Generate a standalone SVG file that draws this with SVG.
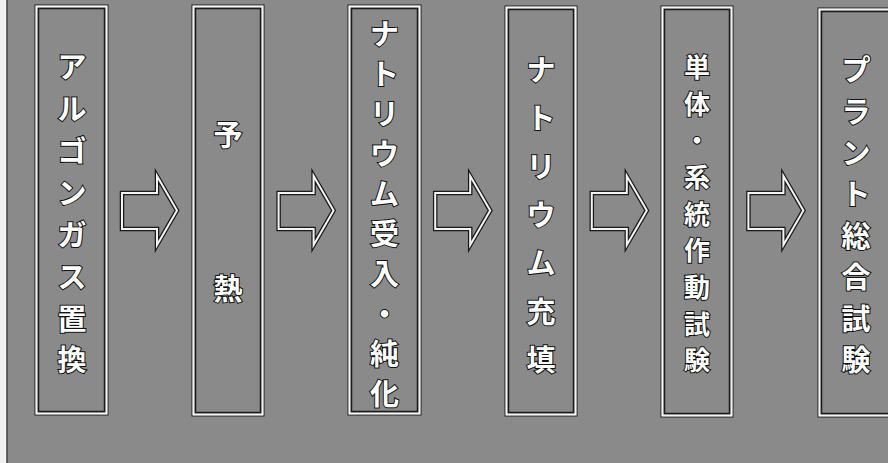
<svg xmlns="http://www.w3.org/2000/svg" width="888" height="463" viewBox="0 0 888 463">
<style>
.bo{fill:none;stroke:#1a1a1a;stroke-width:1}
.bw{fill:none;stroke:#f4f4f4;stroke-width:2}
.bi{fill:none;stroke:#1a1a1a;stroke-width:1.5}
.t{font-family:"Noto Sans CJK JP","Noto Sans CJK SC",sans-serif;font-size:29px;font-weight:bold;fill:#ffffff;stroke:#111111;stroke-width:2px;paint-order:stroke;text-anchor:middle;dominant-baseline:central}
.t5{font-size:26px}
.ao{fill:none;stroke:#1a1a1a;stroke-width:4.5;stroke-linejoin:miter}
.aw{fill:none;stroke:#f4f4f4;stroke-width:2;stroke-linejoin:miter}
</style>
<defs>
<path id="arr" d="M0,17 L35,17 L35,0 L55,34.5 L35,69 L35,53 L0,53 Z"/>
</defs>
<rect x="0" y="0" width="888" height="463" fill="#8a8a8a"/>
<rect x="0" y="0" width="6.5" height="463" fill="#f0f0f0"/>
<line x1="7" y1="0" x2="7" y2="463" stroke="#1a1a1a" stroke-width="1"/>

<g id="node1">
<rect class="bo" x="35" y="5" width="73" height="410"/>
<rect class="bw" x="36.5" y="6.5" width="70" height="407"/>
<rect class="bi" x="38.5" y="8.5" width="66" height="403"/>
<text class="t"><tspan x="72" y="65">ア</tspan><tspan x="72" y="107">ル</tspan><tspan x="72" y="149">ゴ</tspan><tspan x="72" y="191">ン</tspan><tspan x="72" y="233">ガ</tspan><tspan x="72" y="275">ス</tspan><tspan x="72" y="317">置</tspan><tspan x="72" y="358">換</tspan></text>
</g>

<g id="node2">
<rect class="bo" x="192" y="5" width="72" height="411"/>
<rect class="bw" x="193.5" y="6.5" width="69" height="408"/>
<rect class="bi" x="195.5" y="8.5" width="65" height="404"/>
<text class="t"><tspan x="228" y="133">予</tspan><tspan x="228" y="287">熱</tspan></text>
</g>

<g id="node3">
<rect class="bo" x="348" y="5" width="73" height="410"/>
<rect class="bw" x="349.5" y="6.5" width="70" height="407"/>
<rect class="bi" x="351.5" y="8.5" width="66" height="403"/>
<text class="t"><tspan x="384.5" y="32">ナ</tspan><tspan x="384.5" y="72">ト</tspan><tspan x="384.5" y="112">リ</tspan><tspan x="384.5" y="152">ウ</tspan><tspan x="384.5" y="192">ム</tspan><tspan x="384.5" y="232">受</tspan><tspan x="384.5" y="272">入</tspan><tspan x="384.5" y="312">・</tspan><tspan x="384.5" y="352">純</tspan><tspan x="384.5" y="392">化</tspan></text>
</g>

<g id="node4">
<rect class="bo" x="505" y="6" width="72" height="410"/>
<rect class="bw" x="506.5" y="7.5" width="69" height="407"/>
<rect class="bi" x="508.5" y="9.5" width="65" height="403"/>
<text class="t"><tspan x="541" y="68">ナ</tspan><tspan x="541" y="116">ト</tspan><tspan x="541" y="165">リ</tspan><tspan x="541" y="213">ウ</tspan><tspan x="541" y="261">ム</tspan><tspan x="541" y="310">充</tspan><tspan x="541" y="358">填</tspan></text>
</g>

<g id="node5">
<rect class="bo" x="661" y="6" width="72" height="411"/>
<rect class="bw" x="662.5" y="7.5" width="69" height="408"/>
<rect class="bi" x="664.5" y="9.5" width="65" height="404"/>
<text class="t t5"><tspan x="697" y="65">単</tspan><tspan x="697" y="102">体</tspan><tspan x="697" y="138">・</tspan><tspan x="697" y="175">系</tspan><tspan x="697" y="212">統</tspan><tspan x="697" y="248">作</tspan><tspan x="697" y="285">動</tspan><tspan x="697" y="322">試</tspan><tspan x="697" y="358">験</tspan></text>
</g>

<g id="node6">
<rect class="bo" x="818" y="8" width="80" height="409"/>
<rect class="bw" x="819.5" y="9.5" width="77" height="406"/>
<rect class="bi" x="821.5" y="11.5" width="73" height="402"/>
<text class="t"><tspan x="856" y="68">プ</tspan><tspan x="856" y="110">ラ</tspan><tspan x="856" y="151">ン</tspan><tspan x="856" y="192">ト</tspan><tspan x="856" y="234">総</tspan><tspan x="856" y="275">合</tspan><tspan x="856" y="317">試</tspan><tspan x="856" y="358">験</tspan></text>
</g>

<g id="connectors">
<g transform="translate(122,176)"><use href="#arr" class="ao"/><use href="#arr" class="aw"/></g>
<g transform="translate(278.6,176)"><use href="#arr" class="ao"/><use href="#arr" class="aw"/></g>
<g transform="translate(435.2,176)"><use href="#arr" class="ao"/><use href="#arr" class="aw"/></g>
<g transform="translate(591.8,176)"><use href="#arr" class="ao"/><use href="#arr" class="aw"/></g>
<g transform="translate(748.4,176)"><use href="#arr" class="ao"/><use href="#arr" class="aw"/></g>
</g>
</svg>
